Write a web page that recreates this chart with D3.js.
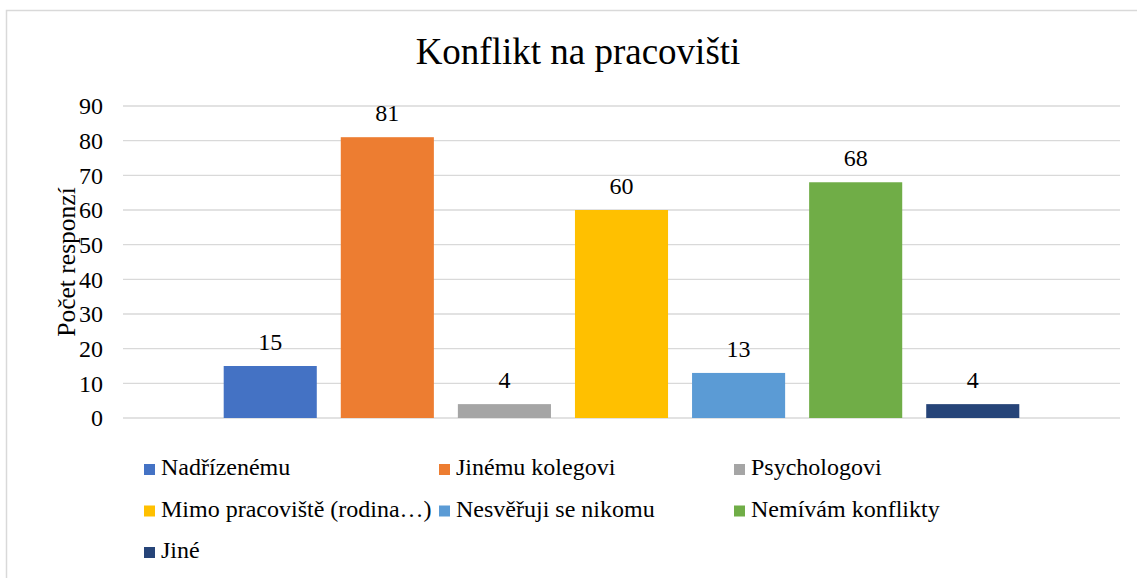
<!DOCTYPE html>
<html>
<head>
<meta charset="utf-8">
<script src="https://cdn.jsdelivr.net/npm/d3@7"></script>
<style>
	body { margin: 0; background: #fff; }
	svg text { font-family: "Liberation Serif", "Times New Roman", serif; fill: #000; }
</style>
</head>
<body>
<svg width="1137" height="578"></svg>
<script>
var series = ["Nadřízenému", "Jinému kolegovi", "Psychologovi", "Mimo pracoviště (rodina…)", "Nesvěřuji se nikomu", "Nemívám konflikty", "Jiné"];
var values = [15, 81, 4, 60, 13, 68, 4];
var colors = ["#4472C4", "#ED7D31", "#A5A5A5", "#FFC000", "#5B9BD5", "#70AD47", "#264478"];
var yTicks = [0, 10, 20, 30, 40, 50, 60, 70, 80, 90];

var svg = d3.select("svg"),
width = +svg.attr("width"),
height = +svg.attr("height");

// chart frame (runs off the right and bottom edge)
svg.append("rect")
.attr("x", 6.5).attr("y", 10.5)
.attr("width", 1140).attr("height", 580)
.attr("fill", "none")
.attr("stroke", "#d9d9d9")
.attr("stroke-width", 1.5);

var plotLeft = 123, plotRight = 1120, plotTop = 106, plotBottom = 418;

var y = d3.scaleLinear().domain([0, 90]).range([plotBottom, plotTop]);

var x = d3.scaleBand()
.domain(series)
.range([plotLeft, plotRight])
.paddingInner(0.205)
.paddingOuter(0.86);

// gridlines
svg.append("g")
.selectAll("line")
.data(yTicks)
.enter().append("line")
.attr("x1", plotLeft).attr("x2", plotRight)
.attr("y1", function(d) { return y(d); })
.attr("y2", function(d) { return y(d); })
.attr("stroke", "#d9d9d9")
.attr("stroke-width", 1.3);

// y axis labels
var yAxis = d3.axisLeft(y).tickValues(yTicks).tickSize(0).tickPadding(20);
var gy = svg.append("g")
.attr("transform", "translate(" + plotLeft + ",0)")
.call(yAxis);
gy.select(".domain").remove();
gy.selectAll("text")
.attr("font-family", "Liberation Serif, Times New Roman, serif")
.attr("font-size", 24)
.attr("fill", "#000");

// bars
svg.append("g")
.selectAll("rect")
.data(series)
.enter().append("rect")
.attr("x", function(d) { return x(d); })
.attr("y", function(d, i) { return y(values[i]); })
.attr("width", x.bandwidth())
.attr("height", function(d, i) { return plotBottom - y(values[i]); })
.attr("fill", function(d, i) { return colors[i]; });

// value labels
svg.append("g")
.selectAll("text")
.data(series)
.enter().append("text")
.attr("x", function(d) { return x(d) + x.bandwidth() / 2; })
.attr("y", function(d, i) { return y(values[i]) - 16; })
.attr("text-anchor", "middle")
.attr("font-size", 24)
.text(function(d, i) { return values[i]; });

// title
svg.append("text")
.attr("x", 578)
.attr("y", 64)
.attr("text-anchor", "middle")
.attr("font-size", 37)
.text("Konflikt na pracovišti");

// y axis title
svg.append("text")
.attr("transform", "translate(75," + ((plotTop + plotBottom) / 2) + ") rotate(-90)")
.attr("text-anchor", "middle")
.attr("font-size", 25.5)
.text("Počet responzí");

// legend, 3 columns
var legend = svg.append("g")
.selectAll("g")
.data(series)
.enter().append("g")
.attr("transform", function(d, i) {
	return "translate(" + (144 + (i % 3) * 295) + "," + (475 + Math.floor(i / 3) * 41.5) + ")";
});

legend.append("rect")
.attr("x", 0).attr("y", -11)
.attr("width", 11).attr("height", 11)
.attr("fill", function(d, i) { return colors[i]; });

legend.append("text")
.attr("x", 17)
.attr("y", 0)
.attr("font-size", 24)
.text(function(d) { return d; });
</script>
</body>
</html>
